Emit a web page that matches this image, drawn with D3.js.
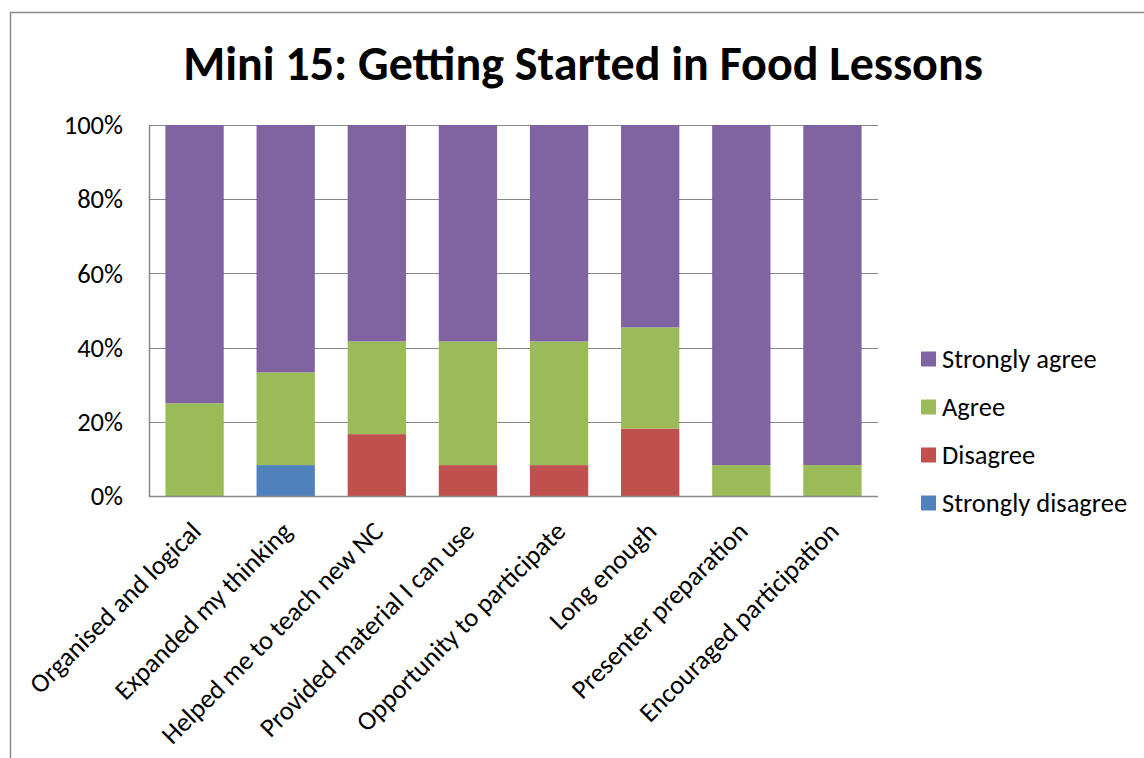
<!DOCTYPE html>
<html>
<head>
<meta charset="utf-8">
<script src="https://cdn.jsdelivr.net/npm/d3@7"></script>
<style>
  body { margin: 0; background: #fff; }
  svg { display: block; font-family: Carlito, Calibri, "Open Sans", sans-serif; }
</style>
</head>
<body>
<svg id="chart" width="1144" height="758"></svg>
<script>
const categories = ["Organised and logical", "Expanded my thinking", "Helped me to teach new NC",
  "Provided material I can use", "Opportunity to participate", "Long enough",
  "Presenter preparation", "Encouraged participation"];
const seriesNames = ["Strongly disagree", "Disagree", "Agree", "Strongly agree"];
const stronglyDisagree = [0, 8.33, 0, 0, 0, 0, 0, 0];
const disagree = [0, 0, 16.67, 8.33, 8.33, 18.18, 0, 0];
const agree = [25, 25, 25, 33.33, 33.33, 27.27, 8.33, 8.33];
const stronglyAgree = [75, 66.67, 58.33, 58.33, 58.33, 54.55, 91.67, 91.67];
const yTicks = [0, 20, 40, 60, 80, 100];
const colors = ["#4f81bd", "#c0504d", "#9bbb59", "#8064a2"];

const svg = d3.select("#chart");
const plotLeft = 149, plotRight = 878, plotTop = 125, plotBottom = 496;

// outer frame
svg.append("path")
   .attr("d", "M10.5,758 L10.5,12.5 L1144,12.5")
   .attr("fill", "none").attr("stroke", "#888").attr("stroke-width", 1.5);

svg.append("text")
   .attr("x", 583).attr("y", 80)
   .attr("text-anchor", "middle")
   .style("font-size", "48px").style("font-weight", "bold")
   .text("Mini 15: Getting Started in Food Lessons");

const table = categories.map((c, i) => ({
  cat: c,
  "Strongly disagree": stronglyDisagree[i],
  "Disagree": disagree[i],
  "Agree": agree[i],
  "Strongly agree": stronglyAgree[i]
}));
const stacked = d3.stack().keys(seriesNames)
  .offset(d3.stackOffsetExpand)(table);

const x = d3.scaleBand().domain(categories)
  .range([plotLeft, plotRight]).paddingInner(0.36).paddingOuter(0.18);
const y = d3.scaleLinear().domain([0, 1]).range([plotBottom, plotTop]);

// gridlines
svg.append("g").selectAll("line").data(yTicks).enter().append("line")
   .attr("x1", plotLeft).attr("x2", plotRight)
   .attr("y1", d => Math.round(y(d / 100)) + 0.5).attr("y2", d => Math.round(y(d / 100)) + 0.5)
   .attr("stroke", "#888").attr("stroke-width", 1.2);

// bars
svg.append("g").selectAll("g").data(stacked).enter().append("g")
   .attr("fill", (d, i) => colors[i])
   .selectAll("rect").data(d => d).enter().append("rect")
   .attr("x", d => x(d.data.cat))
   .attr("width", x.bandwidth())
   .attr("y", d => y(d[1]))
   .attr("height", d => y(d[0]) - y(d[1]));

// axis lines
svg.append("line").attr("x1", plotLeft + 0.5).attr("x2", plotLeft + 0.5)
   .attr("y1", plotTop).attr("y2", plotBottom + 1)
   .attr("stroke", "#888").attr("stroke-width", 1.5);
svg.append("line").attr("x1", plotLeft).attr("x2", plotRight)
   .attr("y1", plotBottom + 0.5).attr("y2", plotBottom + 0.5)
   .attr("stroke", "#888").attr("stroke-width", 1.5);

// y tick labels
svg.append("g").selectAll("text").data(yTicks).enter().append("text")
   .attr("x", 123).attr("y", d => y(d / 100))
   .attr("dy", "0.35em").attr("text-anchor", "end")
   .style("font-size", "26.5px")
   .text(d => d + "%");

// x labels rotated
svg.append("g").selectAll("text").data(categories).enter().append("text")
   .attr("transform", d => `translate(${x(d) + x.bandwidth() / 2 + 8},${533}) rotate(-45)`)
   .attr("text-anchor", "end")
   .style("font-size", "26.5px")
   .text(d => d);

// legend
const legendOrder = ["Strongly agree", "Agree", "Disagree", "Strongly disagree"];
const legend = svg.append("g").selectAll("g").data(legendOrder).enter().append("g")
   .attr("transform", (d, i) => `translate(921,${359 + i * 48})`);
legend.append("rect").attr("x", 0).attr("y", -7.5).attr("width", 15).attr("height", 15)
   .attr("fill", d => colors[seriesNames.indexOf(d)]);
legend.append("text").attr("x", 21).attr("dy", "0.35em")
   .style("font-size", "26.5px").text(d => d);
</script>
</body>
</html>
